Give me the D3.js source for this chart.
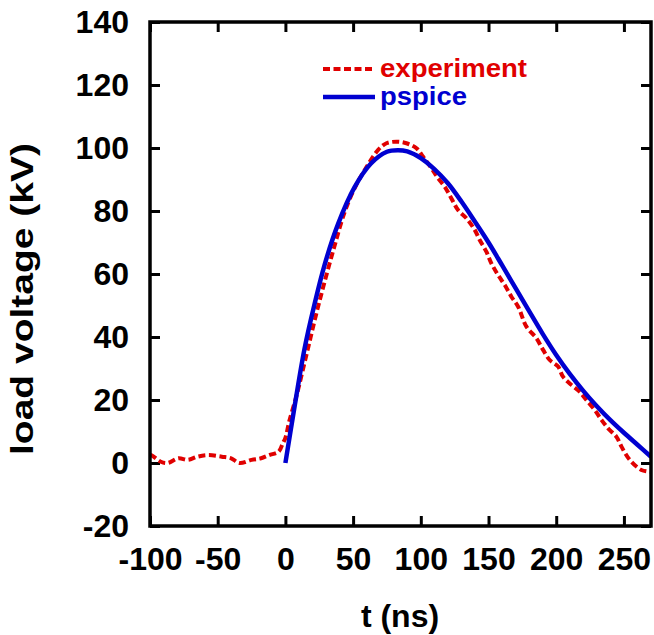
<!DOCTYPE html>
<html>
<head>
<meta charset="utf-8">
<script src="https://cdn.jsdelivr.net/npm/d3@7"></script>
<style>
  html, body { margin: 0; padding: 0; background: #fff; }
  svg { display: block; }
  text { font-family: "Liberation Sans", Arial, Helvetica, sans-serif; font-weight: bold; }
</style>
</head>
<body>
<svg id="chart" width="654" height="635"></svg>
<script>
// Measured load voltage (kV) vs time (ns)
const expTime = [-100, -99, -92, -87, -79, -72, -65, -57, -47, -40, -34, -25, -18, -12, -5, -2, 0, 3, 8, 12, 17, 22, 28, 36, 44, 52, 60, 68.5, 74.6, 82, 89.4, 96.8, 101.7, 107.8, 112.8, 117.7, 122.6, 127.5, 133.7, 139.8, 143.5, 148.4, 152.1, 157, 162, 166.9, 171.9, 178, 185.4, 190.3, 195.2, 201.4, 205, 211.2, 217.4, 222.3, 228.5, 233.4, 238.3, 244.5, 248.2, 254.3, 262.9, 270];
const expVoltage = [2.5, 2.5, 0.4, 0, 1.5, 1, 2, 2.5, 2, 1.5, 0, 1, 1.5, 2.5, 3.6, 6.2, 8, 13.5, 21, 28, 37, 46, 56, 68.5, 80, 88, 94, 99.4, 101.5, 102, 101.5, 99.9, 97.2, 93.6, 90.4, 87.7, 84, 80.3, 77.7, 74, 70.8, 67.1, 63.4, 59.7, 56.5, 52.8, 49.6, 43.3, 39.6, 35.9, 32.7, 30.6, 27.4, 24.8, 22.6, 20, 16.8, 13.7, 11, 8.3, 5.2, 1, -2.2, -2.8];

// PSpice simulation of the same load
const simTime = [0, 7, 14, 21, 29, 39, 51, 63, 75, 83, 90, 100, 110, 120, 130, 140, 150, 160, 170, 180, 190, 200, 210, 220, 230, 240, 250, 260, 270];
const simVoltage = [0, 18.5, 36, 49.5, 63, 76, 87.5, 95, 98.8, 99.3, 98.9, 96.8, 93.3, 88.8, 83.0, 76.6, 70.0, 62.8, 55.5, 48.2, 41.0, 34.3, 28.3, 22.9, 18.0, 13.6, 9.6, 5.8, 2.0];

const xTicks = [-100, -50, 0, 50, 100, 150, 200, 250];
const yTicks = [-20, 0, 20, 40, 60, 80, 100, 120, 140];
const seriesNames = ["experiment", "pspice"];

const RED = "#e00000", BLUE = "#0000d0";
const plotLeft = 150, plotRight = 651, plotTop = 22, plotBottom = 526;

const svg = d3.select("#chart");
const x = d3.scaleLinear().domain([-100, 270]).range([plotLeft, plotRight]);
const y = d3.scaleLinear().domain([-20, 140]).range([plotBottom, plotTop]);

svg.append("defs").append("clipPath").attr("id", "plotClip")
  .append("rect").attr("x", plotLeft).attr("y", plotTop)
  .attr("width", plotRight - plotLeft).attr("height", plotBottom - plotTop);

// Plain hyphen-minus for negative tick values
const fmt = d => String(d);

// Inward ticks on all four sides
function styleAxis(g, withText) {
  g.select(".domain").remove();
  g.selectAll(".tick line").attr("stroke", "#000").attr("stroke-width", 3);
  if (withText) {
    g.selectAll(".tick text").attr("fill", "#000").style("font-size", "32px")
      .style("font-family", "'Liberation Sans', Arial, Helvetica, sans-serif")
      .style("font-weight", "bold");
  } else {
    g.selectAll(".tick text").remove();
  }
}

svg.append("g").attr("transform", `translate(0,${plotBottom})`)
  .call(d3.axisBottom(x).tickValues(xTicks).tickSize(-10).tickPadding(21).tickFormat(fmt))
  .call(g => styleAxis(g, true));
svg.append("g").attr("transform", `translate(0,${plotTop})`)
  .call(d3.axisTop(x).tickValues(xTicks).tickSize(-10))
  .call(g => styleAxis(g, false));
svg.append("g").attr("transform", `translate(${plotLeft},0)`)
  .call(d3.axisLeft(y).tickValues(yTicks).tickSize(-10).tickPadding(21).tickFormat(fmt))
  .call(g => styleAxis(g, true));
svg.append("g").attr("transform", `translate(${plotRight},0)`)
  .call(d3.axisRight(y).tickValues(yTicks).tickSize(-10))
  .call(g => styleAxis(g, false));

const line = d3.line().x(d => x(d[0])).y(d => y(d[1])).curve(d3.curveCatmullRom.alpha(0.5));

const plot = svg.append("g").attr("clip-path", "url(#plotClip)");
plot.append("path")
  .datum(expTime.map((t, i) => [t, expVoltage[i]]))
  .attr("d", line).attr("fill", "none")
  .attr("stroke", RED).attr("stroke-width", 4).attr("stroke-dasharray", "7,3.5");
plot.append("path")
  .datum(simTime.map((t, i) => [t, simVoltage[i]]))
  .attr("d", line).attr("fill", "none")
  .attr("stroke", BLUE).attr("stroke-width", 4.5);

// Frame
svg.append("rect").attr("x", plotLeft).attr("y", plotTop)
  .attr("width", plotRight - plotLeft).attr("height", plotBottom - plotTop)
  .attr("fill", "none").attr("stroke", "#000").attr("stroke-width", 3.5);

// Legend
const legend = [
  { name: seriesNames[0], color: RED, dash: "7,3.5", width: 4, ly: 69, ty: 77, len: 147 },
  { name: seriesNames[1], color: BLUE, dash: null, width: 4.5, ly: 97, ty: 105, len: 87 }
];
legend.forEach(d => {
  svg.append("line").attr("x1", 323).attr("x2", 375).attr("y1", d.ly).attr("y2", d.ly)
    .attr("stroke", d.color).attr("stroke-width", d.width)
    .attr("stroke-dasharray", d.dash);
  svg.append("text").attr("x", 380).attr("y", d.ty).text(d.name)
    .attr("fill", d.color).style("font-size", "26px")
    .attr("textLength", d.len).attr("lengthAdjust", "spacingAndGlyphs");
});

// Axis titles
svg.append("text").attr("x", 400).attr("y", 627).attr("text-anchor", "middle")
  .style("font-size", "32px").text("t (ns)");
svg.append("text").attr("transform", "translate(33,299) rotate(-90)")
  .attr("text-anchor", "middle").style("font-size", "31px")
  .attr("textLength", 312).attr("lengthAdjust", "spacingAndGlyphs")
  .text("load voltage (kV)");
</script>
</body>
</html>
